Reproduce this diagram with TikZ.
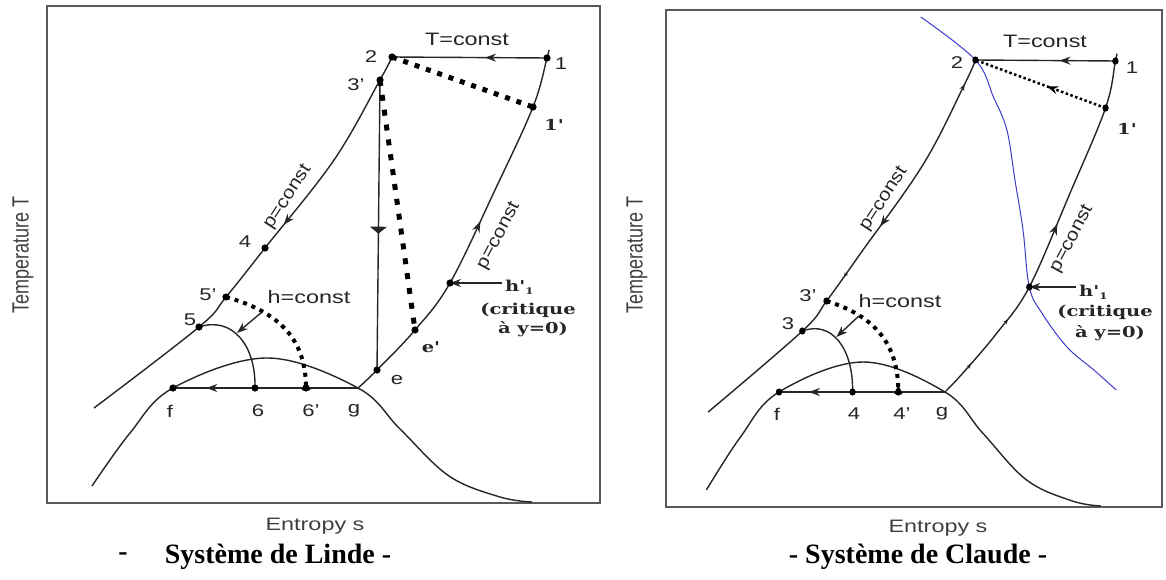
\documentclass[tikz,border=0pt]{standalone}
\usepackage{fontspec}
\setmainfont{Liberation Serif}
\setsansfont{Liberation Sans}
\newfontfamily\bsfont{DejaVu Serif}
\usetikzlibrary{arrows.meta,decorations.markings}
\newcommand{\wide}[1]{\scalebox{1.3}[1]{#1}}
\newcommand{\widep}[1]{\scalebox{1.15}[1]{#1}}
\newcommand{\tall}[1]{\scalebox{1}[1.3]{#1}}
\tikzset{
  curve/.style={line width=1.4pt, draw=black!85},
  frame/.style={line width=2.4pt, draw=black!65},
  lab/.style={font=\sffamily\fontsize{17}{17}\selectfont, inner sep=0pt, text=black!85},
  clab/.style={font=\sffamily\fontsize{18}{18}\selectfont, inner sep=0pt, text=black!85},
  blab/.style={font=\bsfont\bfseries\fontsize{15}{15}\selectfont, inner sep=0pt, text=black!85},
  axlab/.style={font=\sffamily\fontsize{18}{18}\selectfont, inner sep=0pt, text=black!75},
  caption/.style={font=\rmfamily\bfseries\fontsize{28}{28}\selectfont, inner sep=0pt},
  bigdots/.style={line width=5pt, dash pattern=on 5pt off 7pt},
  talldots/.style={line width=5pt, dash pattern=on 6pt off 9pt},
  meddots/.style={line width=4pt, dash pattern=on 4pt off 5pt},
  finedots/.style={line width=2.5pt, dash pattern=on 2.5pt off 2.5pt},
  midarrow/.style={postaction={decorate,decoration={markings,
      mark=at position #1 with {\arrow{Stealth[length=11pt,width=8pt]}}}}},
  smallarrow/.style={postaction={decorate,decoration={markings,
      mark=at position #1 with {\arrow{Stealth[length=5pt,width=4pt]}}}}},
  smallarrowrev/.style={postaction={decorate,decoration={markings,
      mark=at position #1 with {\arrowreversed{Stealth[length=6pt,width=5pt]}}}}},
  vmark/.style={postaction={decorate,decoration={markings,
      mark=at position #1 with {\arrow{Triangle[length=7pt,width=17pt]}}}}},
  harrow/.style={line width=1.4pt, draw=black!85, -{Stealth[length=11pt,width=8pt]}},
  endtri/.style={-{Triangle[length=7pt,width=8pt]}},
}
\newcommand{\mydot}[1]{\fill[black] (#1) circle[radius=3.6pt];}
\begin{document}
\begin{tikzpicture}[x=1pt,y=-1pt]
\useasboundingbox (0,0) rectangle (1166,580);
\fill[white] (0,0) rectangle (1166,580);

% ================= LEFT PANEL (Linde) =================
\draw[frame] (47,6) rectangle (600,503);
\coordinate (L1) at (547,58);
\coordinate (L2) at (392,57);
\coordinate (L3p) at (380,80);
\coordinate (L1p) at (533,107);
\coordinate (L4) at (265,248);
\coordinate (L5p) at (226,297);
\coordinate (L5) at (199,327);
\coordinate (Lf) at (173,388);
\coordinate (L6) at (255,388);
\coordinate (L6p) at (306,388);
\coordinate (Lg) at (358,388);
\coordinate (Le) at (377,370);
\coordinate (Lep) at (415,330);
\coordinate (Lh) at (450,283);
\coordinate (Lhl) at (502,283);
\coordinate (Lend) at (94,408);
\coordinate (Lha) at (262,312);
\coordinate (Lhb) at (237,333);

% dome
\draw[curve] plot[smooth, tension=0.6] coordinates {(92,486) (130,433) (Lf) (267,358) (Lg) (400,429) (449,476) (500,497) (532,502)};
% high pressure line
\draw[curve, midarrow=0.43] plot[smooth, tension=0.6] coordinates {(L2) (L3p) (334,160) (L4) (L5p) (L5) (Lend)};
% low pressure return
\draw[curve, midarrow=0.53] plot[smooth, tension=0.6] coordinates {(Lg) (Le) (Lep) (Lh) (495,190) (L1p) (L1) (549,50)};
% T = const
\draw[curve, midarrow=0.4] (L1) -- (L2);
% f - g
\draw[curve, midarrow=0.82] (Lg) -- (Lf);
% expansion arc 5 -> 6
\draw[curve] (L5) .. controls (232,316) and (256,345) .. (L6);
% vertical line 3' -> e
\draw[curve, vmark=0.53] (L3p) -- (Le);
% dotted lines
\draw[bigdots] (L2) -- (L1p);
\draw[talldots] (L3p) -- (Lep);
\draw[meddots] (L5p) .. controls (280,312) and (306,340) .. (L6p);
\fill[black] (L6p) ++(-4.5,2) -- ++(9,0) -- ++(-4.5,-9) -- cycle;
% arrows
\draw[harrow] (Lha) -- (Lhb);
\draw[harrow] (Lhl) -- (Lh);
% dots
\mydot{L1}\mydot{L2}\mydot{L3p}\mydot{L1p}\mydot{L4}\mydot{L5p}\mydot{L5}
\mydot{Lf}\mydot{L6}\mydot{L6p}\mydot{Le}\mydot{Lep}\mydot{Lh}
% labels
\node[clab] (tL) at (467,39) {\wide{T=const}};
\node[lab] (n2L) at (371,57) {\wide{2}};
\node[lab] (n3pL) at (356,85) {\wide{3'}};
\node[lab] (n1L) at (561,64) {\wide{1}};
\node[blab] (n1pL) at (554,125) {\wide{1'}};
\node[lab] (n4L) at (245,242) {\wide{4}};
\node[lab] (n5pL) at (208,295) {\wide{5'}};
\node[lab] (n5L) at (190,320) {\wide{5}};
\node[lab] (nfL) at (170,411) {\wide{f}};
\node[lab] (n6L) at (258,411) {\wide{6}};
\node[lab] (n6pL) at (311,411) {\wide{6'}};
\node[lab] (ngL) at (354,411) {\wide{g}};
\node[lab] (neL) at (397,380) {\wide{e}};
\node[blab] (nepL) at (431,347) {\wide{e'}};
\node[clab] (hcL) at (309,297) {\wide{h=const}};
\node[clab, rotate=57] (pc1L) at (288,197) {\widep{p=const}};
\node[clab, rotate=62] (pc2L) at (499,236) {\widep{p=const}};
\node[blab, anchor=west] (hpL) at (505,287) {\wide{h'\raisebox{-0.4ex}{\fontsize{9}{9}\selectfont 1}}};
\node[blab] (crL) at (528,310) {\wide{(critique}};
\node[blab] (ayL) at (533,329) {\wide{à y=0)}};
\node[axlab, rotate=90] (TL) at (23,255) {\tall{Temperature T}};
\node[axlab] (SL) at (315,526) {\wide{Entropy s}};
\node[caption] (dashL) at (123,557) {-};
\node[caption] (capL) at (278,557) {Système de Linde -};

% ================= RIGHT PANEL (Claude) =================
\begin{scope}[shift={(623.84,4)}, xscale=0.897]
\draw[frame] (47,6) rectangle (600,503);
\coordinate (R1) at (548,57);
\coordinate (R2) at (392,56);
\coordinate (R1p) at (537,104);
\coordinate (R3p) at (226,297);
\coordinate (R3) at (199,327);
\coordinate (Rf) at (173,388);
\coordinate (R4) at (255,388);
\coordinate (R4p) at (306,388);
\coordinate (Rg) at (358,388);
\coordinate (Rh) at (452,283);
\coordinate (Rhl) at (504,283);
\coordinate (Rend) at (94,408);
\coordinate (Rha) at (262,312);
\coordinate (Rhb) at (237,333);

\draw[curve] plot[smooth, tension=0.6] coordinates {(92,486) (130,433) (Rf) (267,358) (Rg) (400,429) (449,476) (500,497) (532,502)};
\draw[curve, smallarrowrev=0.06, midarrow=0.43, smallarrow=0.57] plot[smooth, tension=0.6] coordinates {(R2) (380,80) (334,160) (265,248) (R3p) (R3) (Rend)};
\draw[curve, smallarrow=0.1, smallarrow=0.25, midarrow=0.53] plot[smooth, tension=0.6] coordinates {(Rg) (377,370) (415,330) (Rh) (497,190) (R1p) (R1) (550,50)};
\draw[curve, midarrow=0.4] (R1) -- (R2);
\draw[curve, midarrow=0.82] (Rg) -- (Rf);
\draw[curve] (R3) .. controls (232,316) and (256,345) .. (R4);
\draw[finedots, midarrow=0.45] (R1p) -- (R2);
\draw[meddots] (R3p) .. controls (280,312) and (306,340) .. (R4p);
\fill[black] (R4p) ++(-4.5,2) -- ++(9,0) -- ++(-4.5,-9) -- cycle;
\draw[harrow] (Rha) -- (Rhb);
\draw[harrow] (Rhl) -- (Rh);
% blue curve
\draw[line width=1pt, draw={rgb,255:red,60;green,60;blue,200}] plot[smooth, tension=0.6] coordinates {(331,13) (R2) (412,93) (427,126) (436,176) (445,226) (Rh) (466,309) (494,343) (524,366) (549,386)};
\mydot{R1}\mydot{R2}\mydot{R1p}\mydot{R3p}\mydot{R3}\mydot{Rf}\mydot{R4}\mydot{R4p}\mydot{Rh}
\end{scope}
\node[clab] (tR) at (1045,41) {\wide{T=const}};
\node[lab] (n2R) at (957,63) {\wide{2}};
\node[lab] (n1R) at (1132,68) {\wide{1}};
\node[blab] (n1pR) at (1127,129) {\wide{1'}};
\node[clab, rotate=57] (pc1R) at (884,199) {\widep{p=const}};
\node[clab, rotate=62] (pc2R) at (1072,239) {\widep{p=const}};
\node[lab] (n3pR) at (808,296) {\wide{3'}};
\node[lab] (n3R) at (788,324) {\wide{3}};
\node[clab] (hcR) at (900,301) {\wide{h=const}};
\node[lab] (nfR) at (777,414) {\wide{f}};
\node[lab] (n4R) at (854,414) {\wide{4}};
\node[lab] (n4pR) at (902,414) {\wide{4'}};
\node[lab] (ngR) at (942,414) {\wide{g}};
\node[blab, anchor=west] (hpR) at (1079,292) {\wide{h'\raisebox{-0.4ex}{\fontsize{9}{9}\selectfont 1}}};
\node[blab] (crR) at (1105,312) {\wide{(critique}};
\node[blab] (ayR) at (1110,333) {\wide{à y=0)}};
\node[axlab, rotate=90] (TR) at (637,255) {\tall{Temperature T}};
\node[axlab] (SR) at (938,528) {\wide{Entropy s}};
\node[caption] (capR) at (918,557) {- Système de Claude -};
\end{tikzpicture}
\end{document}
